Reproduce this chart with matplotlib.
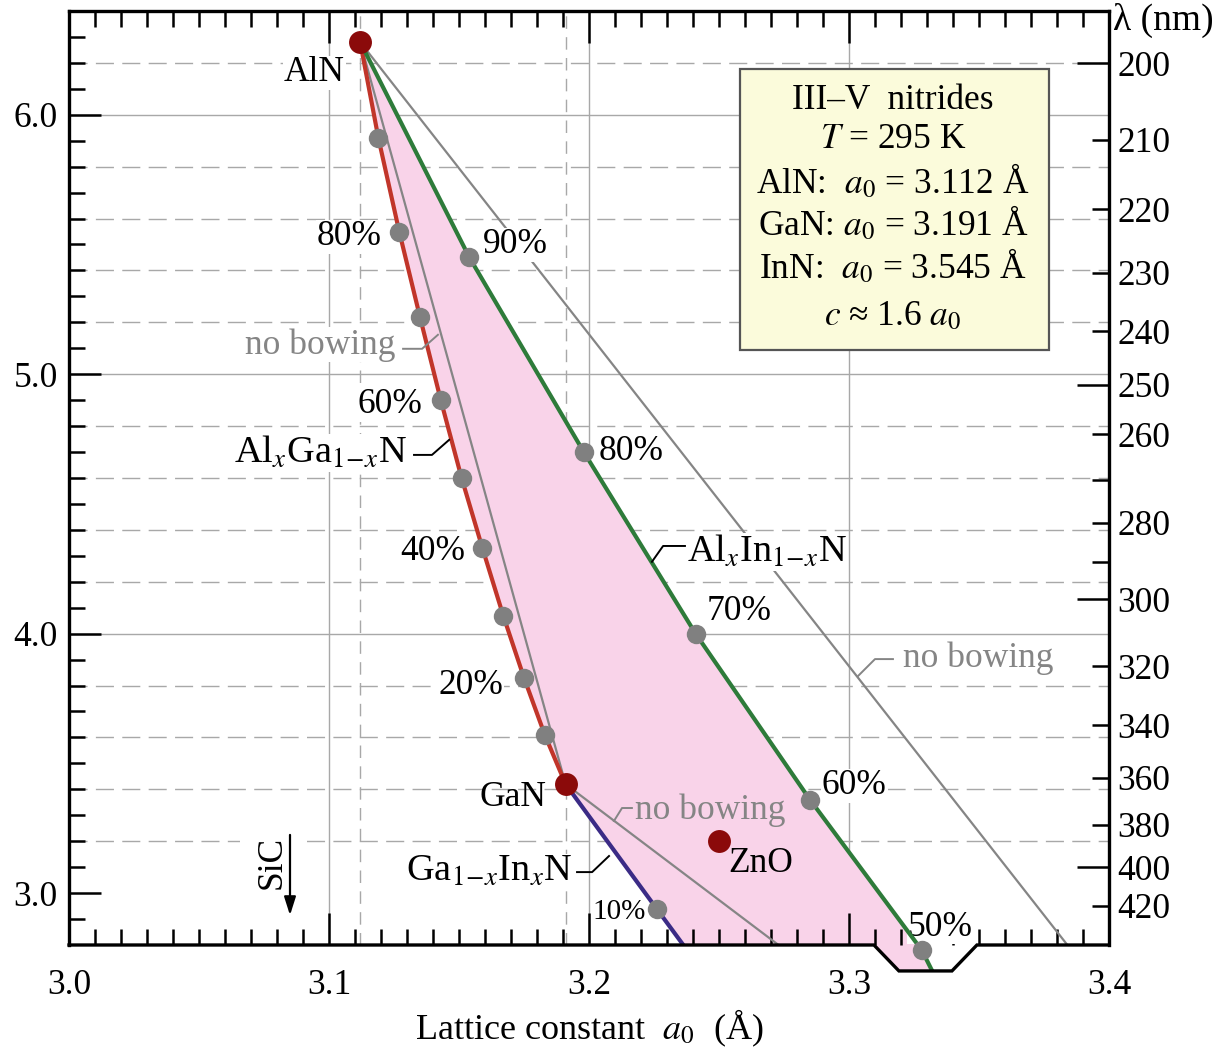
import numpy as np
import matplotlib
matplotlib.use('Agg')
import matplotlib.pyplot as plt
from matplotlib.patches import Polygon, Rectangle

plt.rcParams['font.family'] = ['Liberation Serif', 'DejaVu Serif']
plt.rcParams['mathtext.fontset'] = 'stix'

# binary compounds: lattice constant a0 (Å), band gap (eV)
aln_a, aln_e = 3.112, 6.28
gan_a, gan_e = 3.191, 3.42
inn_a, inn_e = 3.545, 0.74
zno_a, zno_e = 3.250, 3.20
sic_a = 3.085

# AlxGa1-xN, x = 90% ... 10%
algan_a = [3.119, 3.127, 3.135, 3.143, 3.151, 3.159, 3.167, 3.175, 3.183]
algan_e = [5.91, 5.55, 5.22, 4.90, 4.60, 4.33, 4.07, 3.83, 3.61]

# AlxIn1-xN, x = 90% ... 50%, last point = where the curve leaves the frame
alinn_a = [3.154, 3.198, 3.241, 3.285, 3.328, 3.332]
alinn_e = [5.45, 4.70, 4.00, 3.36, 2.78, 2.70]

# Ga1-xInxN, x = 10%, last point = where the curve leaves the frame
gainn_a = [3.226, 3.237]
gainn_e = [2.94, 2.79]

# right axis: wavelength ticks (nm)
lam_major = [200, 250, 300, 400]
lam_minor = [210, 220, 230, 240, 260, 270, 280, 290, 320, 340, 360, 380, 420]
lam_minor_labels = ['210', '220', '230', '240', '260', '', '280', '', '320', '340', '360', '380', '420']

RED = '#c1352a'
GREEN = '#2e7b3a'
BLUE = '#3b2b86'
PINK = '#f9d3e9'
GRAY = '#858585'
DOT = '#8b0a0a'
FS = 25.5

fig = plt.figure(figsize=(12.22, 10.52), dpi=100)
ax = fig.add_axes([69/1222, 107/1052, 1040/1222, 934/1052])
ax.set_xlim(3.0, 3.4)
ax.set_ylim(2.8, 6.4)

# frame with the notch at the bottom
notch = [(3.0, 2.8), (3.3096, 2.8), (3.3192, 2.70), (3.3396, 2.70), (3.3492, 2.8), (3.4, 2.8)]
clip = Polygon([(3.0, 6.4), (3.4, 6.4)] + notch[::-1], closed=True, transform=ax.transData)
ax.spines['bottom'].set_visible(False)
for s in ['left', 'right', 'top']:
    ax.spines[s].set_linewidth(2.4)
ax.plot([p[0] for p in notch], [p[1] for p in notch], color='black', lw=2.4,
        clip_on=False, solid_joinstyle='miter', zorder=10)

# grid
for e in np.arange(3.2, 6.3, 0.2):
    if abs(e - round(e)) < 1e-6:
        ax.axhline(e, color='#a8a8a8', lw=1.0, zorder=0.5)
    else:
        ax.axhline(e, color='#a8a8a8', lw=1.0, ls=(0, (13, 6)), zorder=0.5)
for a in [3.1, 3.2, 3.3]:
    ax.axvline(a, color='#a8a8a8', lw=1.0, zorder=0.5)
for a in [aln_a, gan_a]:
    ax.axvline(a, color='#a8a8a8', lw=1.0, ls=(0, (9, 6)), zorder=0.5)
ax.plot([zno_a, zno_a], [2.8, zno_e], color='#a8a8a8', lw=1.0, ls=(0, (9, 6)), zorder=0.5)

# pink region between the three ternaries
fill_a = [aln_a] + algan_a + [gan_a] + gainn_a + [gainn_a[-1], alinn_a[-1]] + alinn_a[::-1]
fill_e = [aln_e] + algan_e + [gan_e] + gainn_e + [2.5, 2.5] + alinn_e[::-1]
pf = ax.fill(fill_a, fill_e, color=PINK, lw=0, zorder=1)[0]
pf.set_clip_path(clip)
pf.set_clip_box(None)

# no bowing lines
ax.plot([aln_a, gan_a], [aln_e, gan_e], color=GRAY, lw=1.6, zorder=2)
ax.plot([aln_a, inn_a], [aln_e, inn_e], color=GRAY, lw=1.6, zorder=2)
ax.plot([gan_a, inn_a], [gan_e, inn_e], color=GRAY, lw=1.6, zorder=2)

# ternary curves
ax.plot([aln_a] + algan_a + [gan_a], [aln_e] + algan_e + [gan_e], color=RED, lw=3.0, zorder=3)
gl = ax.plot([aln_a] + alinn_a, [aln_e] + alinn_e, color=GREEN, lw=3.0, zorder=3)[0]
gl.set_clip_path(clip)
gl.set_clip_box(None)
ax.plot([gan_a] + gainn_a, [gan_e] + gainn_e, color=BLUE, lw=3.0, zorder=3)

# composition dots
ax.plot(algan_a, algan_e, 'o', color='#808080', ms=14, mec='none', zorder=6)
ax.plot(alinn_a[:5], alinn_e[:5], 'o', color='#808080', ms=14, mec='none', zorder=6, clip_on=False)
ax.plot(gainn_a[:1], gainn_e[:1], 'o', color='#808080', ms=14, mec='none', zorder=6)
ax.plot([aln_a, gan_a, zno_a], [aln_e, gan_e, zno_e], 'o', color=DOT, ms=16.5, mec='none',
        zorder=7, clip_on=False)

wb = dict(facecolor='white', edgecolor='none', pad=0.5)
tk = dict(fontsize=FS, va='center', zorder=5)

# compound labels
ax.text(3.1062, 6.162, 'AlN', ha='right', bbox=wb, **tk)
ax.text(3.1838, 3.370, 'GaN', ha='right', **tk)
ax.text(3.2535, 3.116, 'ZnO', ha='left', **tk)

# percentages
ax.text(3.1204, 5.53, '80%', ha='right', bbox=wb, **tk)
ax.text(3.1358, 4.882, '60%', ha='right', bbox=wb, **tk)
ax.text(3.1523, 4.315, '40%', ha='right', bbox=wb, **tk)
ax.text(3.1669, 3.802, '20%', ha='right', bbox=wb, **tk)
ax.text(3.1592, 5.499, '90%', ha='left', bbox=wb, **tk)
ax.text(3.2038, 4.701, '80%', ha='left', bbox=wb, **tk)
ax.text(3.2454, 4.084, '70%', ha='left', bbox=wb, **tk)
ax.text(3.2896, 3.413, '60%', ha='left', bbox=wb, **tk)
ax.text(3.3225, 2.869, '50%', ha='left', bbox=wb, fontsize=FS, va='center', zorder=2.6,
        clip_on=False)
ax.text(3.2015, 2.927, '10%', ha='left', fontsize=21, va='center', zorder=5,
        bbox=dict(facecolor='white', edgecolor='none', pad=0.3))

# curve names and leaders
ax.text(3.1300, 4.697, r'Al$_x$Ga$_{1\!-\!x}$N', ha='right', bbox=wb, fontsize=27.5,
        va='center', zorder=5)
ax.plot([3.1327, 3.1396, 3.1462], [4.689, 4.689, 4.747], color='black', lw=1.4, zorder=4)
ax.text(3.2377, 4.315, r'Al$_x$In$_{1\!-\!x}$N', ha='left', bbox=wb, fontsize=27.5,
        va='center', zorder=5)
ax.plot([3.2369, 3.2285, 3.2242], [4.338, 4.338, 4.277], color='black', lw=1.4, zorder=4)
ax.text(3.1935, 3.081, r'Ga$_{1\!-\!x}$In$_x$N', ha='right', bbox=wb, fontsize=27.5,
        va='center', zorder=5)
ax.plot([3.1954, 3.2012, 3.2077], [3.081, 3.081, 3.143], color='black', lw=1.4, zorder=4)

ax.text(3.0677, 5.113, 'no bowing', ha='left', color=GRAY, bbox=wb, **tk)
ax.plot([3.1285, 3.1358, 3.1419], [5.098, 5.098, 5.152], color=GRAY, lw=1.4, zorder=4)
ax.text(3.3208, 3.906, 'no bowing', ha='left', color=GRAY, bbox=wb, **tk)
ax.plot([3.3169, 3.3100, 3.3035], [3.902, 3.902, 3.837], color=GRAY, lw=1.4, zorder=4)
ax.text(3.2177, 3.320, 'no bowing', ha='left', color=GRAY, **tk)
ax.plot([3.2165, 3.2127, 3.2096], [3.328, 3.328, 3.278], color=GRAY, lw=1.4, zorder=4)

# SiC marker
ax.add_patch(Rectangle((3.0658, 2.88), 0.0242, 0.38, facecolor='white', edgecolor='none', zorder=4))
ax.text(3.0781, 3.12, 'SiC', rotation=90, ha='center', va='center', fontsize=FS, zorder=5)
ax.annotate('', xy=(sic_a, 2.904), xytext=(sic_a, 3.235), zorder=5,
            arrowprops=dict(arrowstyle='-|>,head_length=1.1,head_width=0.35', color='black', lw=1.6))

# info box
ax.add_patch(Rectangle((0.6452, 0.637), 0.2971, 0.3009, transform=ax.transAxes,
                       facecolor='#fbfbdb', edgecolor='#555555', lw=1.6, zorder=8))
box_lines = ['III\u2013V  nitrides', r'$T$ = 295 K', r'AlN:  $a_0$ = 3.112 Å',
             r'GaN: $a_0$ = 3.191 Å', r'InN:  $a_0$ = 3.545 Å', r'$c$ ≈ 1.6 $a_0$']
box_y = [0.8951, 0.8533, 0.8051, 0.7602, 0.7141, 0.6638]
for s, y in zip(box_lines, box_y):
    ax.text(0.7923, y, s, transform=ax.transAxes, ha='center', va='baseline', fontsize=FS, zorder=9)

# axes ticks
ax.set_xticks([3.0, 3.1, 3.2, 3.3, 3.4], ['3.0', '3.1', '3.2', '3.3', '3.4'])
ax.set_xticks(np.arange(3.0, 3.4001, 0.01), minor=True)
ax.set_yticks([3, 4, 5, 6], ['3.0', '4.0', '5.0', '6.0'])
ax.set_yticks(np.arange(2.9, 6.35, 0.1), minor=True)
ax.tick_params(which='major', direction='in', length=23, width=1.8, top=True, right=False,
               labelsize=FS)
ax.tick_params(which='minor', direction='in', length=11.5, width=1.8, top=True, right=False)
ax.tick_params(axis='x', which='major', pad=17)
ax.tick_params(axis='y', which='major', pad=8)
ax.set_xlabel(r'Lattice constant  $a_0$  (Å)', fontsize=26, labelpad=4)

ax2 = ax.twinx()
ax2.set_ylim(ax.get_ylim())
ax2.set_yticks([1239.84 / l for l in lam_major], [str(l) for l in lam_major])
ax2.set_yticks([1239.84 / l for l in lam_minor], lam_minor_labels, minor=True)
ax2.tick_params(which='both', direction='in', width=1.8, labelsize=FS, pad=6)
ax2.tick_params(which='major', length=23)
ax2.tick_params(which='minor', length=12)
for s in ax2.spines.values():
    s.set_visible(False)
ax2.text(1.004, 0.99, 'λ (nm)', transform=ax2.transAxes, ha='left', va='center', fontsize=27)

fig.savefig('out.png', dpi=100)
